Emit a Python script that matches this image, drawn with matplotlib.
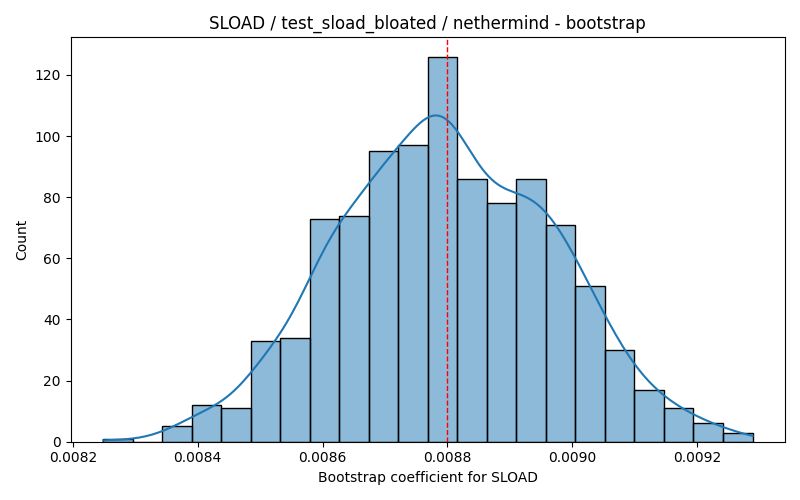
import numpy as np
import matplotlib
matplotlib.use('Agg')
import matplotlib.pyplot as plt
from matplotlib.colors import to_rgba

# histogram (22 equal bins)
x_min = 0.0082486
x_max = 0.0092885
counts = [1, 0, 5, 12, 11, 33, 34, 73, 74, 95, 97, 126,
          86, 78, 86, 71, 51, 30, 17, 11, 6, 3]
ref_value = 0.0088

title = 'SLOAD / test_sload_bloated / nethermind - bootstrap'
xlabel = 'Bootstrap coefficient for SLOAD'
ylabel = 'Count'

counts = np.array(counts, dtype=float)
edges = np.linspace(x_min, x_max, len(counts) + 1)
centers = (edges[:-1] + edges[1:]) / 2
width = edges[1] - edges[0]
n = counts.sum()

# gaussian KDE (Scott's rule) on the binned sample, scaled to counts
mean = np.sum(centers * counts) / n
var = np.sum(counts * (centers - mean) ** 2) / n - width ** 2 / 12  # Sheppard correction
bw = np.sqrt(var) * n ** (-1 / 5)
grid = np.linspace(x_min, x_max, 200)
dens = np.sum(counts[:, None] * np.exp(-0.5 * ((grid[None, :] - centers[:, None]) / bw) ** 2), axis=0)
dens = dens / (n * bw * np.sqrt(2 * np.pi))
kde_counts = dens * n * width

fig, ax = plt.subplots(figsize=(8, 5), dpi=100)
ax.hist(centers, bins=edges, weights=counts,
        facecolor=to_rgba('#1f77b4', 0.5), edgecolor='black', linewidth=1)
ax.plot(grid, kde_counts, color='#1f77b4', linewidth=1.5)
ax.axvline(ref_value, color='red', linestyle='--', linewidth=1, zorder=5)

ax.set_title(title)
ax.set_xlabel(xlabel)
ax.set_ylabel(ylabel)

plt.tight_layout()
plt.savefig('out.png', dpi=100)
